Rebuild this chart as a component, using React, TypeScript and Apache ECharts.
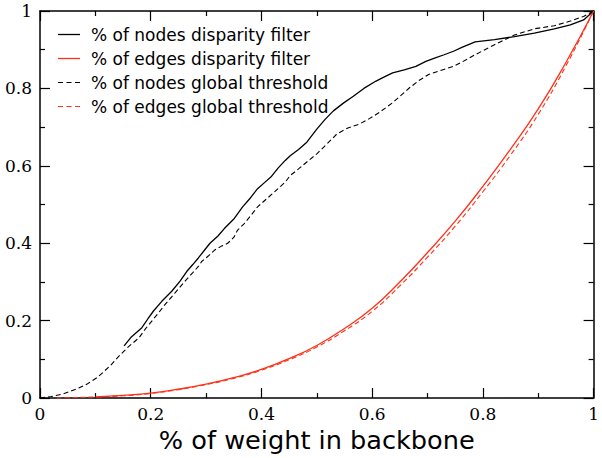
import React, { useEffect, useRef } from "react";
import * as echarts from "echarts";

const nodesDisparityX = [0.152, 0.165, 0.184, 0.195, 0.205, 0.22, 0.238, 0.253, 0.265, 0.276, 0.286, 0.297, 0.307, 0.321, 0.333, 0.351, 0.366, 0.38, 0.393, 0.405, 0.417, 0.43, 0.443, 0.452, 0.467, 0.482, 0.5, 0.515, 0.53, 0.548, 0.566, 0.585, 0.607, 0.622, 0.637, 0.658, 0.679, 0.697, 0.714, 0.73, 0.747, 0.762, 0.786, 0.821, 0.857, 0.893, 0.929, 0.958, 0.982, 1.0];
const nodesDisparityY = [0.135, 0.158, 0.182, 0.205, 0.225, 0.25, 0.276, 0.302, 0.327, 0.345, 0.362, 0.382, 0.4, 0.418, 0.438, 0.464, 0.494, 0.517, 0.541, 0.556, 0.571, 0.594, 0.614, 0.626, 0.642, 0.661, 0.695, 0.72, 0.742, 0.762, 0.78, 0.8, 0.819, 0.83, 0.84, 0.848, 0.857, 0.87, 0.879, 0.887, 0.896, 0.906, 0.92, 0.926, 0.934, 0.943, 0.954, 0.964, 0.977, 1.0];

const edgesDisparityX = [0.1, 0.15, 0.2, 0.25, 0.3, 0.35, 0.4, 0.45, 0.5, 0.55, 0.6, 0.65, 0.7, 0.75, 0.8, 0.85, 0.9, 0.95, 1.0];
const edgesDisparityY = [0.003, 0.007, 0.013, 0.023, 0.036, 0.053, 0.074, 0.102, 0.136, 0.18, 0.232, 0.3, 0.376, 0.457, 0.547, 0.643, 0.747, 0.867, 1.0];

const nodesGlobalX = [0, 0.02, 0.04, 0.056, 0.07, 0.086, 0.104, 0.115, 0.127, 0.143, 0.16, 0.179, 0.19, 0.202, 0.214, 0.226, 0.244, 0.262, 0.276, 0.286, 0.292, 0.304, 0.316, 0.327, 0.339, 0.35, 0.357, 0.369, 0.381, 0.393, 0.408, 0.423, 0.443, 0.452, 0.467, 0.482, 0.5, 0.518, 0.536, 0.555, 0.577, 0.595, 0.613, 0.637, 0.652, 0.667, 0.684, 0.702, 0.725, 0.747, 0.762, 0.786, 0.821, 0.857, 0.893, 0.929, 0.958, 0.982, 1.0];
const nodesGlobalY = [0, 0.004, 0.01, 0.018, 0.026, 0.037, 0.054, 0.068, 0.084, 0.109, 0.133, 0.156, 0.178, 0.199, 0.22, 0.242, 0.272, 0.302, 0.324, 0.34, 0.353, 0.367, 0.383, 0.392, 0.4, 0.415, 0.434, 0.451, 0.472, 0.494, 0.513, 0.532, 0.558, 0.575, 0.592, 0.61, 0.631, 0.656, 0.682, 0.697, 0.708, 0.722, 0.738, 0.763, 0.782, 0.801, 0.82, 0.836, 0.847, 0.857, 0.868, 0.887, 0.913, 0.938, 0.954, 0.962, 0.974, 0.986, 1.0];

const edgesGlobalX = [0.03, 0.05, 0.1, 0.15, 0.2, 0.25, 0.3, 0.35, 0.4, 0.45, 0.5, 0.55, 0.6, 0.65, 0.7, 0.75, 0.8, 0.85, 0.9, 0.95, 1.0];
const edgesGlobalY = [0, 0.001, 0.003, 0.006, 0.012, 0.022, 0.035, 0.051, 0.072, 0.099, 0.132, 0.174, 0.224, 0.29, 0.364, 0.444, 0.533, 0.628, 0.733, 0.858, 1.0];

const seriesNames = [
  "% of nodes disparity filter",
  "% of edges disparity filter",
  "% of nodes global threshold",
  "% of edges global threshold",
];
const xTickValues = [0, 0.2, 0.4, 0.6, 0.8, 1];
const xAxisTitle = "% of weight in backbone";

const zip = (xs: number[], ys: number[]) => xs.map((x, i) => [x, ys[i]]);

const SOLID_ICON = "path://M0,0H22V1.3H0Z";
const DASH_ICON = "path://M0,0h5v1.1h-5zM8.5,0h5v1.1h-5zM17,0h5v1.1h-5z";

export default function App() {
  const ref = useRef<HTMLDivElement>(null);
  useEffect(() => {
    document.body.style.margin = "0";
    const chart = echarts.init(ref.current!, null, { renderer: "svg" });
    const fmt = (v: number) => {
      const r = Math.round(v * 10) / 10;
      return xTickValues.some((t) => Math.abs(t - r) < 1e-9) ? String(r) : "";
    };
    const axisCommon = {
      type: "value" as const,
      min: 0,
      max: 1,
      interval: 0.2,
      splitLine: { show: false },
      axisLine: { show: true, onZero: false, lineStyle: { color: "#000", width: 1.5 } },
      axisTick: { show: true, inside: true, length: 10, lineStyle: { color: "#000", width: 1.2 } },
      minorTick: { show: true, splitNumber: 2, length: 5, lineStyle: { color: "#000", width: 1.2 } },
      minorSplitLine: { show: false },
    };
    const labelStyle = {
      fontFamily: "DejaVu Serif",
      fontSize: 17,
      color: "#000",
    };
    const red = "#ff3018";
    chart.setOption({
      animation: false,
      backgroundColor: "#fff",
      grid: { left: 40, right: 2, top: 11, bottom: 57 },
      legend: {
        orient: "vertical",
        left: 53,
        top: 21,
        itemWidth: 22,
        itemHeight: 14,
        itemGap: 7,
        textStyle: { fontFamily: "DejaVu Sans", fontSize: 17, lineHeight: 17, color: "#000", padding: [0, 0, 0, 6] },
        data: [
          { name: seriesNames[0], icon: SOLID_ICON },
          { name: seriesNames[1], icon: SOLID_ICON },
          { name: seriesNames[2], icon: DASH_ICON },
          { name: seriesNames[3], icon: DASH_ICON },
        ],
      },
      xAxis: [
        {
          ...axisCommon,
          position: "bottom",
          axisLabel: { ...labelStyle, margin: 7, formatter: fmt },
          name: xAxisTitle,
          nameLocation: "middle",
          nameGap: 25,
          nameTextStyle: { fontFamily: "DejaVu Sans", fontSize: 25.6, color: "#000" },
        },
        { ...axisCommon, position: "top", axisLabel: { show: false } },
      ],
      yAxis: [
        { ...axisCommon, position: "left", axisLabel: { ...labelStyle, margin: 8, formatter: fmt } },
        { ...axisCommon, position: "right", axisLabel: { show: false } },
      ],
      series: [
        {
          name: seriesNames[0],
          type: "line",
          symbol: "none",
          data: zip(nodesDisparityX, nodesDisparityY),
          lineStyle: { color: "#000", width: 1.3, type: "solid" },
          itemStyle: { color: "#000" },
          z: 3,
        },
        {
          name: seriesNames[1],
          type: "line",
          symbol: "none",
          smooth: true,
          data: zip(edgesDisparityX, edgesDisparityY),
          lineStyle: { color: red, width: 1.3, type: "solid" },
          itemStyle: { color: red },
        },
        {
          name: seriesNames[2],
          type: "line",
          symbol: "none",
          data: zip(nodesGlobalX, nodesGlobalY),
          lineStyle: { color: "#000", width: 1.1, type: [5, 3] },
          itemStyle: { color: "#000" },
        },
        {
          name: seriesNames[3],
          type: "line",
          symbol: "none",
          smooth: true,
          data: zip(edgesGlobalX, edgesGlobalY),
          lineStyle: { color: red, width: 1.1, type: [5, 3] },
          itemStyle: { color: red },
        },
      ],
    });
    return () => chart.dispose();
  }, []);
  return <div ref={ref} style={{ width: 602, height: 458 }} />;
}
